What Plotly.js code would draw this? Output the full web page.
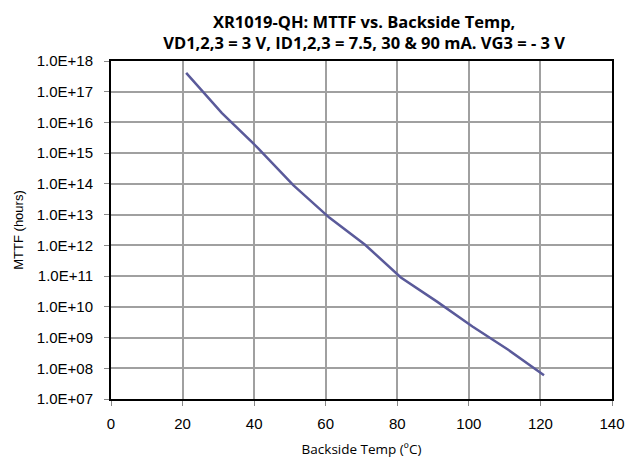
<!DOCTYPE html>
<html>
<head>
<meta charset="utf-8">
<script src="https://cdn.plot.ly/plotly-3.0.1.min.js"></script>
<style>html,body{margin:0;padding:0;background:#fff;}#chart{width:631px;height:462px;}</style>
</head>
<body>
<div id="chart"></div>
<script>
// Backside temperature (°C)
const temps = [21, 31, 41, 51, 61, 71, 81, 91, 101, 111, 121];
// MTTF (hours)
const mttf = [4.1e17, 2.0e16, 1.5e15, 9.0e13, 8.0e12, 1.05e12, 9.0e10, 1.5e10, 2.3e9, 4.0e8, 5.9e7];
// Y tick values and labels
const yTickVals = [1e7, 1e8, 1e9, 1e10, 1e11, 1e12, 1e13, 1e14, 1e15, 1e16, 1e17, 1e18];
const yTickText = ["1.0E+07","1.0E+08","1.0E+09","1.0E+10","1.0E+11","1.0E+12","1.0E+13","1.0E+14","1.0E+15","1.0E+16","1.0E+17","1.0E+18"];
const xTickVals = [0, 20, 40, 60, 80, 100, 120, 140];

const trace = {
  x: temps, y: mttf, type: 'scatter', mode: 'lines',
  line: {color: '#5a5a9a', width: 2.5}, hoverinfo: 'none'
};

const layout = {
  width: 631, height: 462,
  margin: {l: 111, r: 19, t: 61, b: 63},
  paper_bgcolor: '#fff', plot_bgcolor: '#fff',
  showlegend: false,
  title: {
    text: '<b>XR1019-QH: MTTF vs. Backside Temp,<br>VD1,2,3 = 3 V, ID1,2,3 = 7.5, 30 &amp; 90 mA. VG3 = - 3 V</b>',
    font: {family: 'Open Sans, Liberation Sans, sans-serif', size: 16.5, color: '#000'},
    x: 0.577, xanchor: 'center', yref: 'container', y: 0.94, yanchor: 'middle'
  },
  xaxis: {
    range: [0, 140], tickvals: xTickVals, ticks: 'outside', ticklen: 5, tickcolor: '#888', tickwidth: 1,
    ticklabelstandoff: 5,
    showgrid: true, gridcolor: '#a0a0a0', gridwidth: 2,
    showline: true, linecolor: '#000', linewidth: 2, mirror: true, zeroline: false,
    tickfont: {family: 'Liberation Sans, Arial, sans-serif', size: 15, color: '#000'},
    title: {text: 'Backside Temp (ºC)', font: {family: 'Open Sans, Liberation Sans, sans-serif', size: 13.5, color: '#000'}, standoff: 14}
  },
  yaxis: {
    type: 'log', range: [7, 18], tickvals: yTickVals, ticktext: yTickText,
    ticks: 'outside', ticklen: 5, tickcolor: '#888', tickwidth: 1,
    ticklabelstandoff: 8,
    showgrid: true, gridcolor: '#a0a0a0', gridwidth: 2,
    showline: true, linecolor: '#000', linewidth: 2, mirror: true, zeroline: false,
    tickfont: {family: 'Liberation Sans, Arial, sans-serif', size: 15, color: '#000'},
    title: {text: 'MTTF (hours)', font: {family: 'Liberation Sans, Arial, sans-serif', size: 13, color: '#000'}, standoff: 10}
  }
};

Plotly.newPlot('chart', [trace], layout, {displayModeBar: false, staticPlot: true});
</script>
</body>
</html>
